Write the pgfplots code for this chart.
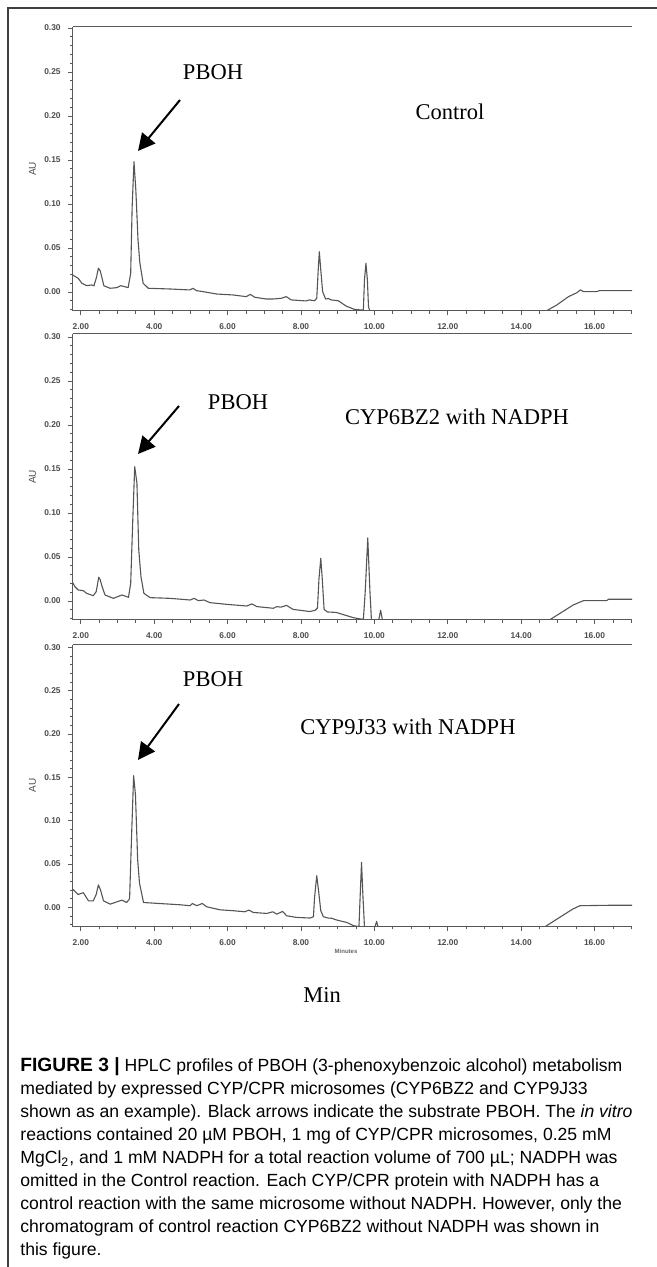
\documentclass[border=0pt]{standalone}
\usepackage{fontspec}
\setmainfont{Liberation Serif}
\newfontfamily\capfont{Liberation Sans}
\usepackage{pgfplots}
\pgfplotsset{compat=1.18}
\usepackage{pgfplotstable}
\usetikzlibrary{arrows.meta}

\definecolor{tracegray}{HTML}{555555}
\definecolor{axisgray}{HTML}{5A5A5A}

% Control (CYP6BZ2 without NADPH)
\pgfplotstableread{
t a
1.78 0.0193
1.93 0.0155
2.03 0.0099
2.16 0.0072
2.30 0.0080
2.36 0.0070
2.43 0.0170
2.48 0.0270
2.53 0.0240
2.57 0.0174
2.63 0.0070
2.80 0.0042
2.98 0.0049
3.09 0.0072
3.20 0.0060
3.29 0.0049
3.36 0.0210
3.40 0.0970
3.45 0.1480
3.50 0.1160
3.56 0.0590
3.61 0.0330
3.70 0.0099
3.84 0.0042
4.43 0.0034
4.97 0.0023
5.06 0.0042
5.15 0.0015
5.33 0.0004
5.70 -0.0023
6.15 -0.0034
6.51 -0.0053
6.62 -0.0027
6.74 -0.0060
7.05 -0.0080
7.23 -0.0080
7.46 -0.0072
7.60 -0.0053
7.73 -0.0090
8.14 -0.0102
8.23 -0.0090
8.37 -0.0100
8.43 -0.0070
8.47 0.0250
8.50 0.0458
8.54 0.0250
8.59 0.0004
8.67 -0.0080
8.75 -0.0075
8.82 -0.0090
9.02 -0.0100
9.23 -0.0160
9.45 -0.0197
9.64 -0.0205
9.70 -0.0205
9.73 0.0136
9.77 0.0326
9.81 0.0136
9.84 -0.0170
9.88 -0.0216
14.68 -0.0216
14.97 -0.0148
15.29 -0.0053
15.52 -0.0008
15.61 0.0023
15.70 0.0004
16.06 0.0004
16.13 0.0015
17.02 0.0015
}\control

% CYP6BZ2 with NADPH
\pgfplotstableread{
t a
1.78 0.0208
1.84 0.0163
1.93 0.0125
2.07 0.0117
2.16 0.0087
2.34 0.0060
2.42 0.0106
2.49 0.0270
2.53 0.0240
2.57 0.0180
2.66 0.0068
2.89 0.0030
3.12 0.0068
3.30 0.0042
3.36 0.0200
3.42 0.0960
3.47 0.1526
3.53 0.1340
3.58 0.0580
3.64 0.0276
3.72 0.0087
3.89 0.0038
4.43 0.0030
4.98 0.0011
5.09 0.0030
5.20 0.0004
5.36 0.0011
5.52 -0.0019
5.97 -0.0038
6.52 -0.0057
6.66 -0.0034
6.80 -0.0064
7.25 -0.0083
7.34 -0.0064
7.45 -0.0070
7.61 -0.0050
7.78 -0.0095
8.24 -0.0120
8.39 -0.0105
8.45 -0.0080
8.49 0.0250
8.54 0.0485
8.58 0.0250
8.63 -0.0095
8.72 -0.0125
8.96 -0.0130
9.43 -0.0190
9.70 -0.0210
9.75 0.0100
9.82 0.0716
9.88 0.0100
9.92 -0.0216
10.12 -0.0216
10.17 -0.0105
10.22 -0.0216
14.77 -0.0216
15.42 -0.0045
15.70 0.0004
16.33 0.0004
16.38 0.0020
17.02 0.0020
}\bztwo

% CYP9J33 with NADPH
\pgfplotstableread{
t a
1.78 0.0210
1.93 0.0150
2.07 0.0170
2.21 0.0076
2.34 0.0076
2.42 0.0150
2.48 0.0260
2.54 0.0200
2.62 0.0076
2.80 0.0038
3.12 0.0084
3.25 0.0057
3.33 0.0100
3.39 0.0900
3.44 0.1520
3.49 0.1300
3.55 0.0550
3.60 0.0280
3.71 0.0057
4.16 0.0045
4.70 0.0031
4.98 0.0020
5.04 0.0046
5.16 0.0020
5.31 0.0046
5.43 0.0008
5.79 -0.0027
6.16 -0.0038
6.47 -0.0050
6.58 -0.0030
6.70 -0.0058
7.07 -0.0069
7.23 -0.0050
7.34 -0.0077
7.50 -0.0046
7.61 -0.0096
7.88 -0.0115
8.25 -0.0122
8.34 -0.0107
8.37 0.0115
8.43 0.0366
8.48 0.0190
8.54 -0.0038
8.61 -0.0107
8.74 -0.0122
8.84 -0.0125
8.97 -0.0145
9.25 -0.0173
9.43 -0.0210
9.58 -0.0222
9.61 0.0100
9.65 0.0520
9.69 0.0115
9.73 -0.0222
10.02 -0.0222
10.06 -0.0160
10.10 -0.0222
14.65 -0.0222
15.40 -0.0020
15.60 0.0020
16.40 0.0025
17.02 0.0025
}\jthree

\pgfplotsset{
  hplc/.style={
    scale only axis,
    width=279.65pt,
    xmin=1.78, xmax=17.02, ymin=-0.0216,
    axis x line=bottom, axis y line=left,
    axis line style={-, axisgray, line width=0.5pt},
    every tick/.style={axisgray, line width=0.4pt},
    tick align=outside,
    major tick length=2.2pt, minor tick length=1.3pt,
    xtick={2,4,6,8,10,12,14,16},
    minor xtick={2.5,3,...,17},
    ytick={0,0.05,0.10,0.15,0.20,0.25,0.30},
    minor ytick={-0.02,-0.01,...,0.295},
    /pgf/number format/assume math mode=true,
    xticklabel={\pgfmathprintnumber[fixed,fixed zerofill,precision=2]{\tick}},
    yticklabel={\pgfmathprintnumber[fixed,fixed zerofill,precision=2]{\tick}},
    tick label style={font=\capfont\bfseries\fontsize{4.2}{4.7}\selectfont, text=black!70},
    xticklabel style={yshift=-0.6pt},
    yticklabel style={xshift=-0.3pt},
    ylabel={AU},
    ylabel style={font=\capfont\fontsize{5}{6}\selectfont, text=black!70,
      at={(axis description cs:-0.072,0.5)}, anchor=center},
    after end axis/.code={\draw[axisgray, line width=0.5pt] (rel axis cs:0,1) -- (rel axis cs:1,1);},
  },
  chrom/.style={tracegray, line width=0.55pt, line join=round, no marks},
}

\begin{document}
\begin{tikzpicture}
\path[use as bounding box] (0,0) rectangle (328.5pt,633.5pt);
\draw[black!75, line width=0.7pt] (4pt,0) -- (4pt,629.5pt) -- (328.5pt,629.5pt);

\begin{axis}[hplc, at={(36.35pt,478pt)}, anchor=south west, height=142pt, ymax=0.3011]
  \addplot[chrom] table[x=t, y=a] {\control};
\end{axis}

\begin{axis}[hplc, at={(36.35pt,323.5pt)}, anchor=south west, height=143pt, ymax=0.3034]
  \addplot[chrom] table[x=t, y=a] {\bztwo};
\end{axis}

\begin{axis}[hplc, at={(36.35pt,170.15pt)}, anchor=south west, height=141pt, ymin=-0.0222, ymax=0.3031]
  \addplot[chrom] table[x=t, y=a] {\jthree};
\end{axis}

% annotations
\begin{scope}[font=\fontsize{11.25}{13}\selectfont]
  \node at (106.5pt,597.5pt) {PBOH};
  \node at (225pt,577.5pt) {Control};
  \node at (119pt,432.5pt) {PBOH};
  \node at (228.5pt,425pt) {CYP6BZ2 with NADPH};
  \node at (106.5pt,294pt) {PBOH};
  \node at (204pt,270pt) {CYP9J33 with NADPH};
  \node at (161pt,136pt) {Min};
\end{scope}
\begin{scope}[line width=1pt, -{Triangle[length=8.5pt,width=8.5pt]}]
  \draw (90pt,583.5pt) -- (69pt,558pt);
  \draw (89.5pt,430.5pt) -- (69pt,406.5pt);
  \draw (89.5pt,281.5pt) -- (69pt,253.5pt);
\end{scope}
\node[font=\capfont\bfseries\fontsize{3}{3.5}\selectfont, text=black!60] at (173pt,158pt) {Minutes};

% caption
\begin{scope}[font=\capfont\fontsize{8.8}{11.5}\selectfont, inner sep=0pt]
  \node[anchor=base west] at (10pt,97.5pt) {{\bfseries\fontsize{9.6}{11.5}\selectfont FIGURE 3 |} HPLC profiles of PBOH (3-phenoxybenzoic alcohol) metabolism};
  \node[anchor=base west] at (10pt,86pt) {mediated by expressed CYP/CPR microsomes (CYP6BZ2 and CYP9J33};
  \node[anchor=base west] at (10pt,74.5pt) {shown as an example). Black arrows indicate the substrate PBOH. The \textit{in vitro}};
  \node[anchor=base west] at (10pt,63pt) {reactions contained 20 µM PBOH, 1 mg of CYP/CPR microsomes, 0.25 mM};
  \node[anchor=base west] at (10pt,51.5pt) {MgCl\textsubscript{2}, and 1 mM NADPH for a total reaction volume of 700 µL; NADPH was};
  \node[anchor=base west] at (10pt,40pt) {omitted in the Control reaction. Each CYP/CPR protein with NADPH has a};
  \node[anchor=base west] at (10pt,28.5pt) {control reaction with the same microsome without NADPH. However, only the};
  \node[anchor=base west] at (10pt,17pt) {chromatogram of control reaction CYP6BZ2 without NADPH was shown in};
  \node[anchor=base west] at (10pt,5.5pt) {this figure.};
\end{scope}
\end{tikzpicture}
\end{document}
